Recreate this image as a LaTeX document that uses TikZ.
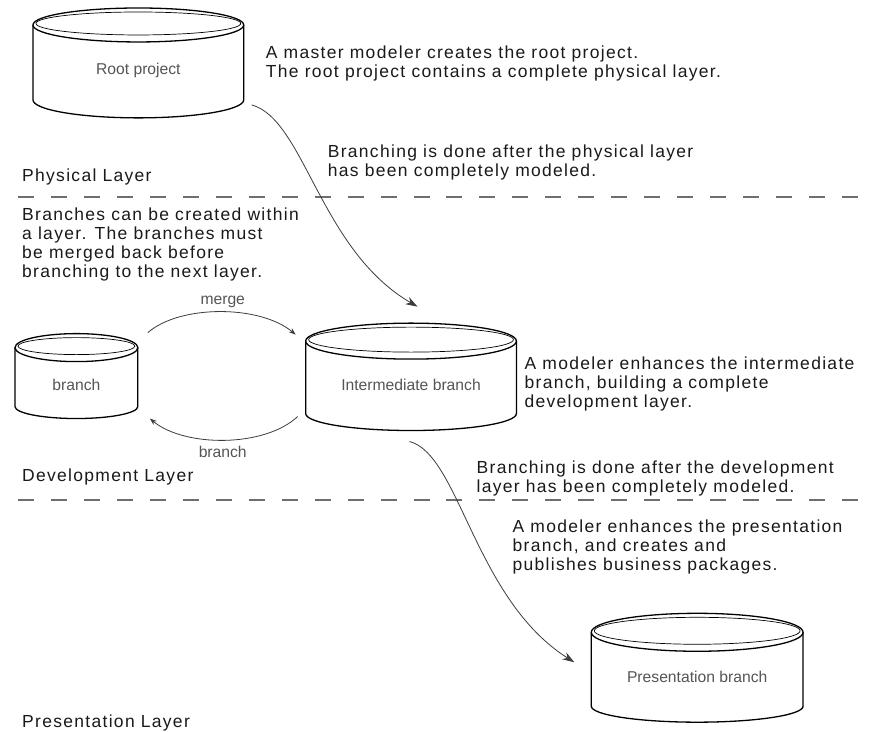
\documentclass[tikz,border=0pt]{standalone}
\usepackage{fontspec}
\setmainfont{Liberation Sans}
\newfontfamily\notefont[LetterSpace=7.5]{Liberation Sans}
\usepackage{tikz}
\usetikzlibrary{arrows.meta}
\definecolor{inkx}{HTML}{1A1A1A}
\definecolor{cyltx}{HTML}{555555}
\definecolor{dashx}{HTML}{6E6E6E}
\tikzset{
  cylline/.style={draw=black,line width=1.3pt},
  rimline/.style={draw=black,line width=0.7pt},
  cyltext/.style={font=\fontsize{15.7}{17}\selectfont,text=cyltx,inner sep=0pt},
  note/.style={font=\notefont\fontsize{17.5}{19}\selectfont,text=inkx,align=left,anchor=base west,inner sep=0pt},
  flow/.style={-{Stealth[length=12pt,width=8pt]},line width=0.8pt,inkx!85},
  swap/.style={-{Stealth[length=7pt,width=5pt]},line width=0.8pt,inkx!85},
  layersep/.style={draw=dashx,line width=2pt,dash pattern=on 16pt off 17pt}
}
% name, cx, top y, bottom y, x radius, top y radius, bottom y radius, label
\newcommand{\dbcyl}[8]{%
  \draw[cylline] ({#2-#5},{#3}) -- ({#2-#5},{#4}) arc[start angle=180,end angle=360,x radius=#5,y radius=#7] -- ({#2+#5},{#3});
  \draw[cylline] (#2,#3) ellipse[x radius=#5,y radius=#6];
  \draw[rimline] ({#2},{#3+1.5}) ellipse[x radius={#5-3},y radius={#6-5.5}];
  \node[cyltext] (#1) at ({#2},{(#3+#4)/2-8}) {#8};
}

\begin{document}
\begin{tikzpicture}[x=1pt,y=1pt]
\fill[white] (0,0) rectangle (875,-732);
% layer separators
\draw[layersep] (18,-197) -- (875,-197);
\draw[layersep] (18,-501) -- (875,-501);

% projects
\dbcyl{root}{138.5}{-25}{-100}{105.5}{17}{18}{Root project}
\dbcyl{side}{76.5}{-348}{-407}{61.5}{14}{12}{branch}
\dbcyl{inter}{411.5}{-341.5}{-414}{105.5}{18}{17}{Intermediate branch}
\dbcyl{present}{698}{-633}{-707}{106}{19}{16}{Presentation branch}

% arrow ends
\coordinate (rootout) at (252,-105);
\coordinate (interin) at (418,-307);
\coordinate (sideout) at (148,-333);
\coordinate (interleft) at (296,-335);
\coordinate (interback) at (298,-417);
\coordinate (sidein) at (150,-419);
\coordinate (interout) at (410,-442);
\coordinate (presentin) at (575,-663);

\draw[flow] (rootout) .. controls (305,-120) and (320,-250) .. (interin);
\draw[swap] (sideout) .. controls (180,-305) and (260,-305) .. (interleft);
\draw[swap] (interback) .. controls (265,-448) and (185,-448) .. (sidein);
\draw[flow] (interout) .. controls (460,-455) and (475,-600) .. (presentin);
\node[cyltext,anchor=base] (mergelbl) at (223,-305) {merge};
\node[cyltext,anchor=base] (branchlbl) at (223,-458) {branch};

% notes (anchored at the last line)
\node[note] (rootnote) at (266,-78) {A master modeler creates the root project.\\The root project contains a complete physical layer.};
\node[note] (physnote) at (328,-177) {Branching is done after the physical layer\\has been completely modeled.};
\node[note] (physlayer) at (22,-182) {Physical Layer};
\node[note] (withinnote) at (22,-278) {Branches can be created within\\a layer. The branches must\\be merged back before\\branching to the next layer.};
\node[note] (internote) at (525,-408) {A modeler enhances the intermediate\\branch, building a complete\\development layer.};
\node[note] (devlayer) at (22,-482) {Development Layer};
\node[note] (devnote) at (477,-493) {Branching is done after the development\\layer has been completely modeled.};
\node[note] (presnote) at (513,-571) {A modeler enhances the presentation\\branch, and creates and\\publishes business packages.};
\node[note] (preslayer) at (22,-728) {Presentation Layer};
\end{tikzpicture}
\end{document}
